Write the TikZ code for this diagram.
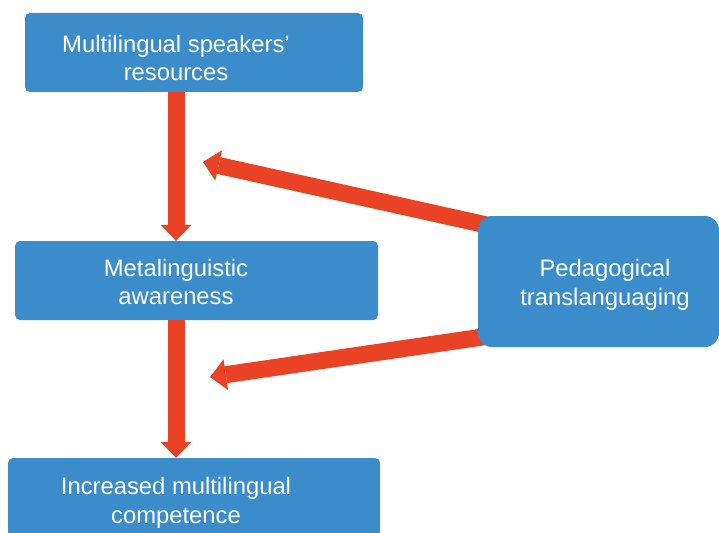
\documentclass[tikz,border=0pt]{standalone}
\usepackage{fontspec}
\setmainfont{Liberation Sans}
\usetikzlibrary{arrows.meta,calc,backgrounds}
\definecolor{boxblue}{RGB}{58,140,202}
\definecolor{arrred}{RGB}{234,66,36}
\tikzset{
  box/.style={fill=boxblue,rounded corners=5pt,inner sep=0pt},
  boxtext/.style={text=white,align=center,font=\fontsize{23.8}{28.5}\selectfont},
  bigarrow/.style={draw=arrred,line width=17pt,-{Triangle[width=31pt,length=16pt,line width=0pt]}}
}
\begin{document}
\begin{tikzpicture}[x=1pt,y=-1pt]
    \useasboundingbox (0,0) rectangle (719,532);
    % boxes on the left
    \node[box,minimum width=338pt,minimum height=79pt] (res) at (194,52.5) {};
    \node[boxtext] (rest) at (176,58) {Multilingual speakers’\\resources};
    \node[box,minimum width=363pt,minimum height=79pt] (meta) at (196.5,280.5) {};
    \node[boxtext] (metat) at (176,282) {Metalinguistic\\awareness};
    \node[box,minimum width=372pt,minimum height=79pt] (comp) at (194,497.5) {};
    \node[boxtext] (compt) at (176,503) {Increased multilingual\\competence};
    % box on the right
    \node[box,rounded corners=14pt,minimum width=241pt,minimum height=131pt] (ped) at (598.5,281.5) {};
    \node[boxtext] (pedt) at (605,285) {Pedagogical\\translanguaging};

    % arrows
    \coordinate (tipA) at (203,162);
    \coordinate (tipB) at (210,377);
    \begin{pgfonlayer}{background}
      \draw[bigarrow] ($(ped.north west)+(17,11)$) -- (tipA);
      \draw[bigarrow] ($(ped.south west)+(17,-12)$) -- (tipB);
    \end{pgfonlayer}
    \draw[bigarrow] (rest |- res.south) -- (rest |- meta.north);
    \draw[bigarrow] (metat |- meta.south) -- (metat |- comp.north);
\end{tikzpicture}
\end{document}
